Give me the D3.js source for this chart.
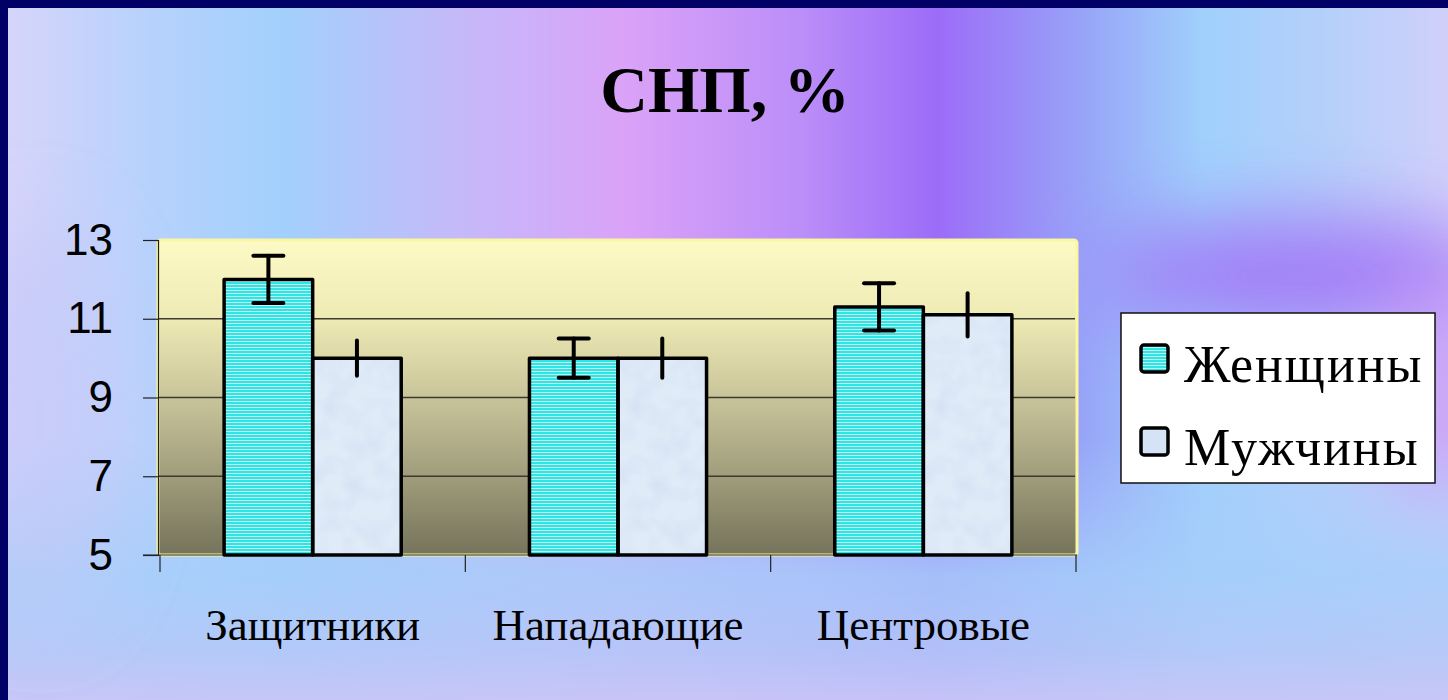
<!DOCTYPE html>
<html>
<head>
<meta charset="utf-8">
<script src="https://cdn.jsdelivr.net/npm/d3@7"></script>
<style>
  html, body { margin: 0; padding: 0; background: #000066; }
  svg { display: block; }
</style>
</head>
<body>
<svg id="chart" width="1448" height="700"></svg>
<script>
// Data
const categories = ["Защитники", "Нападающие", "Центровые"];
const seriesNames = ["Женщины", "Мужчины"];
const womenValues = [12.0, 10.0, 11.3];
const menValues = [10.0, 10.0, 11.1];
const womenErrors = [0.6, 0.5, 0.6];
const menErrors = [0.45, 0.5, 0.55];
const yTickValues = [5, 7, 9, 11, 13];
const titleText = "СНП, %";

const svg = d3.select("#chart");
const W = 1448, H = 700;
const defs = svg.append("defs");

// Slide background: vertical colour bands
const bg = defs.append("linearGradient").attr("id", "bgBands")
  .attr("x1", 0).attr("x2", 1).attr("y1", 0).attr("y2", 0);
[
  [0.00, "#d6d4fa"], [0.10, "#b6d2fc"], [0.19, "#a2d0fc"], [0.31, "#c4baf9"],
  [0.43, "#daa2f8"], [0.55, "#bb8ef8"], [0.645, "#9c6cf8"], [0.75, "#98a6f8"],
  [0.83, "#a0d0fc"], [0.92, "#b6d0fa"], [1.00, "#d0d0fa"]
].forEach(([o, c]) => bg.append("stop").attr("offset", o).attr("stop-color", c));

// Lower part of the slide fades to a soft blue
const bgLow = defs.append("linearGradient").attr("id", "bgLow")
  .attr("x1", 0).attr("x2", 0).attr("y1", 0).attr("y2", 1);
[
  [0.00, "#a8ccfa", 0], [0.62, "#a8ccfa", 0], [0.82, "#a6cefa", 0.85],
  [0.93, "#b4c8f8", 0.9], [1.00, "#c8c6f8", 0.95]
].forEach(([o, c, a]) => bgLow.append("stop").attr("offset", o)
  .attr("stop-color", c).attr("stop-opacity", a));

// Soft blur covering the whole canvas, so blurred shapes never clip
const blur = defs.append("filter").attr("id", "soft")
  .attr("filterUnits", "userSpaceOnUse")
  .attr("x", 0).attr("y", 0).attr("width", W).attr("height", H);
blur.append("feGaussianBlur").attr("stdDeviation", 40);

// Plot area fill
const plotGrad = defs.append("linearGradient").attr("id", "plotFill")
  .attr("x1", 0).attr("x2", 0).attr("y1", 0).attr("y2", 1);
[
  [0.00, "#fdfac6"], [0.25, "#eeeab4"], [0.50, "#c8c49a"], [0.75, "#a09d7c"], [1.00, "#75735a"]
].forEach(([o, c]) => plotGrad.append("stop").attr("offset", o).attr("stop-color", c));

// Striped fill for the first series
const stripes = defs.append("pattern").attr("id", "stripes")
  .attr("patternUnits", "userSpaceOnUse").attr("width", 6).attr("height", 3);
stripes.append("rect").attr("width", 6).attr("height", 3).attr("fill", "#c4f6f6");
stripes.append("rect").attr("width", 6).attr("height", 2).attr("fill", "#2ee4e4");

// Mottled fill for the second series
const mottle = defs.append("filter").attr("id", "mottle")
  .attr("x", 0).attr("y", 0).attr("width", 1).attr("height", 1);
mottle.append("feTurbulence").attr("type", "fractalNoise")
  .attr("baseFrequency", 0.05).attr("numOctaves", 2).attr("seed", 7).attr("result", "noise");
mottle.append("feColorMatrix").attr("in", "noise").attr("type", "matrix")
  .attr("values", "0 0 0 0 0.68  0 0 0 0 0.76  0 0 0 0 0.90  2.2 0 0 0 -0.85")
  .attr("result", "tint");
mottle.append("feComposite").attr("in", "tint").attr("in2", "SourceGraphic")
  .attr("operator", "atop");

// Background layers
svg.append("rect").attr("width", W).attr("height", H).attr("fill", "#000066");
const bgG = svg.append("g");
bgG.append("rect").attr("x", 8).attr("y", 8).attr("width", W - 8).attr("height", H - 8)
  .attr("fill", "url(#bgBands)");
bgG.append("ellipse").attr("cx", 1300).attr("cy", 275).attr("rx", 200).attr("ry", 55)
  .attr("fill", "#a070f6").attr("opacity", 0.9).attr("filter", "url(#soft)");
bgG.append("ellipse").attr("cx", 1440).attr("cy", 400).attr("rx", 60).attr("ry", 120)
  .attr("fill", "#c890f6").attr("opacity", 0.7).attr("filter", "url(#soft)");
bgG.append("rect").attr("x", 8).attr("y", 8).attr("width", W - 8).attr("height", H - 8)
  .attr("fill", "url(#bgLow)");
bgG.append("ellipse").attr("cx", 40).attr("cy", 420).attr("rx", 80).attr("ry", 200)
  .attr("fill", "#c4c8f8").attr("opacity", 0.6).attr("filter", "url(#soft)");
// keep the navy frame crisp over the blurred layers
svg.append("rect").attr("width", 8).attr("height", H).attr("fill", "#000066");
svg.append("rect").attr("width", W).attr("height", 8).attr("fill", "#000066");

// Scales
const plot = { left: 158, right: 1077, top: 240, bottom: 555 };
const x = d3.scaleBand().domain(categories)
  .range([160, 1076]).paddingInner(0.42).paddingOuter(0.21);
const xs = d3.scaleBand().domain(seriesNames).range([0, x.bandwidth()]);
const y = d3.scaleLinear().domain([5, 13]).range([plot.bottom, plot.top]);

// Plot area
svg.append("rect")
  .attr("x", plot.left).attr("y", plot.top)
  .attr("width", plot.right - plot.left).attr("height", plot.bottom - plot.top)
  .attr("rx", 3)
  .attr("fill", "url(#plotFill)")
  .attr("stroke", "#fbf6a2").attr("stroke-width", 3);

// Gridlines
svg.append("g").selectAll("line")
  .data(yTickValues.filter(v => v !== 5 && v !== 13))
  .join("line")
  .attr("x1", plot.left).attr("x2", plot.right - 2)
  .attr("y1", d => y(d)).attr("y2", d => y(d))
  .attr("stroke", "#3c3a30").attr("stroke-width", 1.5);

// Y axis
const yAxis = svg.append("g").attr("transform", `translate(${plot.left},0)`)
  .call(d3.axisLeft(y).tickValues(yTickValues).tickSize(15).tickPadding(30).tickFormat(d3.format("d")));
yAxis.select(".domain").attr("stroke", "#222").attr("stroke-width", 1.2);
yAxis.selectAll(".tick line").attr("stroke", "#222").attr("stroke-width", 1.2);
yAxis.selectAll(".tick text")
  .attr("font-family", "'Liberation Sans', Arial, sans-serif")
  .attr("font-size", 44).attr("fill", "#000");

// X axis: ticks at category boundaries
const boundaries = categories.map(c => x(c) - x.step() * x.paddingInner() / 2);
boundaries[0] = 160;
boundaries.push(1076);
svg.append("line").attr("x1", plot.left - 15).attr("x2", plot.right)
  .attr("y1", plot.bottom).attr("y2", plot.bottom)
  .attr("stroke", "#222").attr("stroke-width", 1.2);
svg.append("g").selectAll("line").data(boundaries).join("line")
  .attr("x1", d => d).attr("x2", d => d)
  .attr("y1", plot.bottom).attr("y2", plot.bottom + 17)
  .attr("stroke", "#222").attr("stroke-width", 1.2);

// Category labels
svg.append("g").selectAll("text").data(categories).join("text")
  .attr("x", d => x(d) + x.bandwidth() / 2)
  .attr("y", 640)
  .attr("text-anchor", "middle")
  .attr("font-family", "'Liberation Serif', 'Times New Roman', serif")
  .attr("font-size", 45)
  .attr("fill", "#000")
  .text(d => d);

// Bars
const rows = categories.map((c, i) => ({
  cat: c,
  bars: [
    { s: seriesNames[0], v: womenValues[i], e: womenErrors[i], fill: "url(#stripes)", cap: true },
    { s: seriesNames[1], v: menValues[i], e: menErrors[i], fill: "#e0ebf8", cap: false }
  ]
}));

const groups = svg.append("g").selectAll("g").data(rows).join("g")
  .attr("transform", d => `translate(${x(d.cat)},0)`);

groups.selectAll("rect.fillbar").data(d => d.bars).join("rect")
  .attr("class", "fillbar")
  .attr("x", d => xs(d.s)).attr("width", xs.bandwidth())
  .attr("y", d => y(d.v)).attr("height", d => y(5) - y(d.v))
  .attr("fill", d => d.fill)
  .attr("filter", d => d.cap ? null : "url(#mottle)");

groups.selectAll("rect.outline").data(d => d.bars).join("rect")
  .attr("class", "outline")
  .attr("x", d => xs(d.s)).attr("width", xs.bandwidth())
  .attr("y", d => y(d.v)).attr("height", d => y(5) - y(d.v))
  .attr("fill", "none")
  .attr("stroke", "#000").attr("stroke-width", 3.5)
  .attr("stroke-linejoin", "round");

// Error bars
const err = groups.selectAll("g.err").data(d => d.bars).join("g").attr("class", "err");
err.append("line")
  .attr("x1", d => xs(d.s) + xs.bandwidth() / 2).attr("x2", d => xs(d.s) + xs.bandwidth() / 2)
  .attr("y1", d => y(d.v + d.e)).attr("y2", d => y(d.v - d.e))
  .attr("stroke", "#000").attr("stroke-width", 4).attr("stroke-linecap", "round");
err.filter(d => d.cap).selectAll("line.cap")
  .data(d => [d.v + d.e, d.v - d.e].map(v => ({ v, cx: xs(d.s) + xs.bandwidth() / 2 })))
  .join("line").attr("class", "cap")
  .attr("x1", d => d.cx - 15).attr("x2", d => d.cx + 15)
  .attr("y1", d => y(d.v)).attr("y2", d => y(d.v))
  .attr("stroke", "#000").attr("stroke-width", 4).attr("stroke-linecap", "round");

// Title
svg.append("text")
  .attr("x", 725).attr("y", 112)
  .attr("text-anchor", "middle")
  .attr("font-family", "'Liberation Serif', 'Times New Roman', serif")
  .attr("font-weight", "bold")
  .attr("font-size", 66)
  .attr("fill", "#000")
  .text(titleText);

// Legend
const legend = svg.append("g");
legend.append("rect")
  .attr("x", 1121).attr("y", 313).attr("width", 314).attr("height", 170)
  .attr("fill", "#fff").attr("stroke", "#111").attr("stroke-width", 1.5);
const legendFills = ["url(#stripes)", "#d4e4f6"];
const items = legend.selectAll("g.item").data(seriesNames).join("g")
  .attr("class", "item")
  .attr("transform", (d, i) => `translate(0,${i * 83})`);
items.append("rect")
  .attr("x", 1141).attr("y", 345).attr("width", 27).attr("height", 27)
  .attr("rx", 3)
  .attr("fill", (d, i) => legendFills[i])
  .attr("stroke", "#000").attr("stroke-width", 3.5);
items.append("text")
  .attr("x", 1184).attr("y", 382)
  .attr("font-family", "'Liberation Serif', 'Times New Roman', serif")
  .attr("font-size", 52)
  .attr("letter-spacing", 2)
  .attr("fill", "#000")
  .text(d => d);
</script>
</body>
</html>
